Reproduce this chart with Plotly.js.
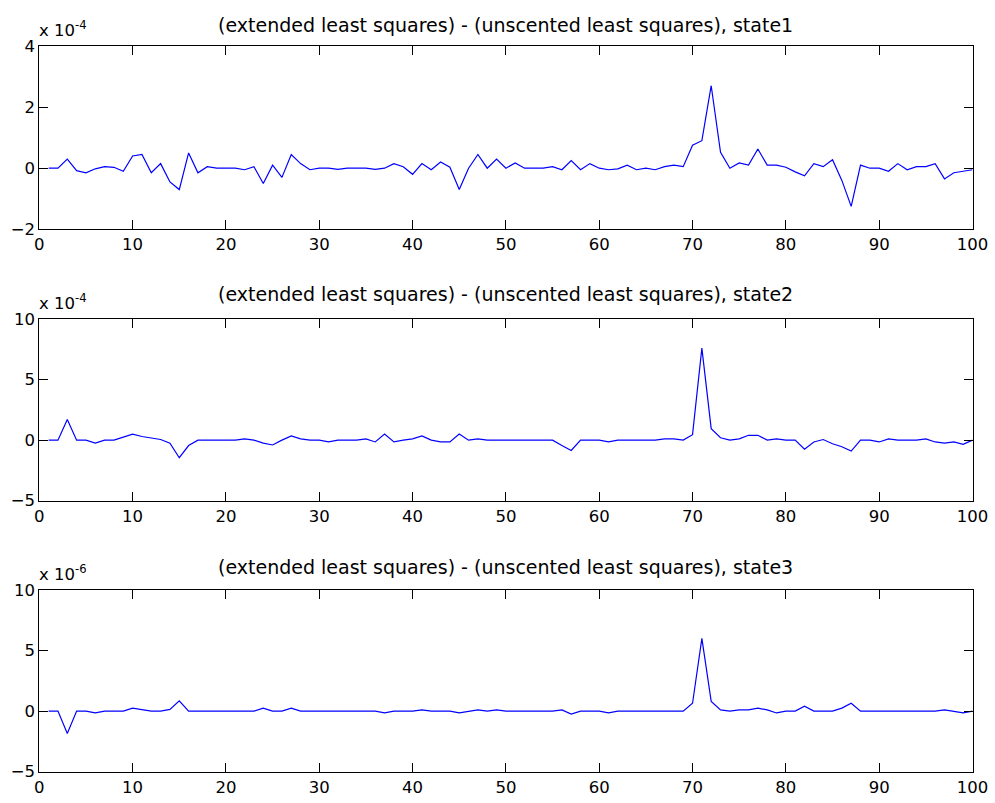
<!DOCTYPE html>
<html>
<head>
<meta charset="utf-8">
<script src="https://cdn.plot.ly/plotly-3.0.1.min.js"></script>
<style>
html,body{margin:0;padding:0;background:#fff;}
#chart{width:995px;height:803px;}
</style>
</head>
<body>
<div id="chart"></div>
<script>
const steps = [1,2,3,4,5,6,7,8,9,10,11,12,13,14,15,16,17,18,19,20,21,22,23,24,25,26,27,28,29,30,31,32,33,34,35,36,37,38,39,40,41,42,43,44,45,46,47,48,49,50,51,52,53,54,55,56,57,58,59,60,61,62,63,64,65,66,67,68,69,70,71,72,73,74,75,76,77,78,79,80,81,82,83,84,85,86,87,88,89,90,91,92,93,94,95,96,97,98,99,100];

// state1 difference, in units of 1e-4
const state1 = [0,0,0.3,-0.08,-0.15,-0.02,0.05,0.03,-0.1,0.4,
  0.45,-0.15,0.15,-0.45,-0.7,0.5,-0.15,0.05,0,0,
  0,-0.05,0.05,-0.5,0.1,-0.3,0.45,0.15,-0.05,0,
  0,-0.04,0,0,0,-0.04,0,0.15,0.05,-0.2,
  0.15,-0.05,0.2,0.03,-0.7,0,0.45,0,0.3,0,
  0.17,0,0,0,0.05,-0.05,0.25,-0.05,0.15,0,
  -0.05,-0.02,0.1,-0.05,0,-0.05,0.05,0.1,0.05,0.75,
  0.9,2.7,0.52,0,0.17,0.1,0.63,0.1,0.1,0.03,
  -0.12,-0.25,0.15,0.05,0.28,-0.4,-1.25,0.1,0,0,
  -0.1,0.15,-0.05,0.05,0.05,0.15,-0.35,-0.15,-0.1,-0.05];

// state2 difference, in units of 1e-4
const state2 = [0,0,1.7,0,0,-0.25,0,0,0.25,0.5,
  0.3,0.2,0.05,-0.25,-1.45,-0.45,0,0,0,0,
  0,0.1,0,-0.25,-0.4,0,0.35,0.1,0,0,
  -0.15,0,0,0,0.1,-0.15,0.5,-0.15,0,0.1,
  0.35,0,-0.15,-0.15,0.5,0,0.1,0,0,0,
  0,0,0,0,0,-0.45,-0.85,0,0,0,
  -0.15,0,0,0,0,0,0.1,0.1,0,0.45,
  7.6,0.95,0.2,0,0.1,0.4,0.4,0,0.1,0,
  0,-0.75,-0.15,0.05,-0.3,-0.55,-0.9,0,0,-0.15,
  0.1,0,0,0,0.1,-0.15,-0.25,-0.15,-0.35,0];

// state3 difference, in units of 1e-6
const state3 = [0,0,-1.85,0,0,-0.15,0,0,0,0.25,
  0.15,0,0,0.15,0.85,0,0,0,0,0,
  0,0,0,0.25,0,0,0.25,0,0,0,
  0,0,0,0,0,0,-0.15,0,0,0,
  0.1,0,0,0,-0.15,0,0.1,0,0.1,0,
  0,0,0,0,0,0.1,-0.25,0,0,0,
  -0.15,0,0,0,0,0,0,0,0,0.65,
  6.0,0.8,0.1,0,0.1,0.1,0.25,0.1,-0.15,0,
  0,0.4,0,0,0,0.25,0.65,0,0,0,
  0,0,0,0,0,0,0.1,0,-0.15,0];

const titles = [
  "(extended least squares) - (unscented least squares), state1",
  "(extended least squares) - (unscented least squares), state2",
  "(extended least squares) - (unscented least squares), state3"
];
const exponents = ["-4","-4","-6"];
const xTicks = [0,10,20,30,40,50,60,70,80,90,100];
const yTicks1 = [-2,0,2,4];
const yTicks2 = [-5,0,5,10];
const yTicks3 = [-5,0,5,10];

const W = 995, H = 803;
const left = 39.3, right = 972.5;
const boxes = [[46,229.3],[319,500.7],[590,771.7]];
const titleGap = [21,25,23];
const fontFam = "DejaVu Sans, Liberation Sans, Arial, sans-serif";
const tickSize = 16.5;
const titleSize = 19;

const line = {color:'#0000ff', width:1.2};
const traces = [
  {x:steps, y:state1, type:'scatter', mode:'lines', line:line, xaxis:'x', yaxis:'y'},
  {x:steps, y:state2, type:'scatter', mode:'lines', line:line, xaxis:'x2', yaxis:'y2'},
  {x:steps, y:state3, type:'scatter', mode:'lines', line:line, xaxis:'x3', yaxis:'y3'}
];

function xax(anchor){
  return {domain:[left/W, right/W], range:[0,100], tickvals:xTicks, ticks:'inside', ticklen:9,
    tickcolor:'#000', showline:true, linecolor:'#000', linewidth:1, mirror:'ticks',
    showgrid:false, zeroline:false, anchor:anchor,
    tickfont:{family:fontFam, size:tickSize, color:'#000'}};
}
function yax(anchor, box, range, tv){
  return {domain:[(H-box[1])/H, (H-box[0])/H], range:range, tickvals:tv, ticks:'inside', ticklen:9,
    tickcolor:'#000', showline:true, linecolor:'#000', linewidth:1, mirror:'ticks',
    showgrid:false, zeroline:false, anchor:anchor,
    tickfont:{family:fontFam, size:tickSize, color:'#000'}};
}

const annotations = [];
for (let i=0;i<3;i++){
  annotations.push({text:titles[i], xref:'paper', yref:'paper', x:((left+right)/2)/W, y:(H-boxes[i][0]+titleGap[i])/H,
    xanchor:'center', yanchor:'middle', showarrow:false, font:{family:fontFam, size:titleSize, color:'#000'}});
  annotations.push({text:'x 10<sup>'+exponents[i]+'</sup>', xref:'paper', yref:'paper', x:(left-2)/W, y:(H-boxes[i][0]+4)/H,
    xanchor:'left', yanchor:'bottom', showarrow:false, font:{family:fontFam, size:tickSize, color:'#000'}});
}

const layout = {
  width:W, height:H, margin:{l:0,r:0,t:0,b:0}, showlegend:false,
  paper_bgcolor:'#fff', plot_bgcolor:'#fff',
  xaxis:xax('y'), xaxis2:xax('y2'), xaxis3:xax('y3'),
  yaxis:yax('x', boxes[0], [-2,4], yTicks1),
  yaxis2:yax('x2', boxes[1], [-5,10], yTicks2),
  yaxis3:yax('x3', boxes[2], [-5,10], yTicks3),
  annotations:annotations
};

Plotly.newPlot('chart', traces, layout, {displayModeBar:false, staticPlot:true});
</script>
</body>
</html>
